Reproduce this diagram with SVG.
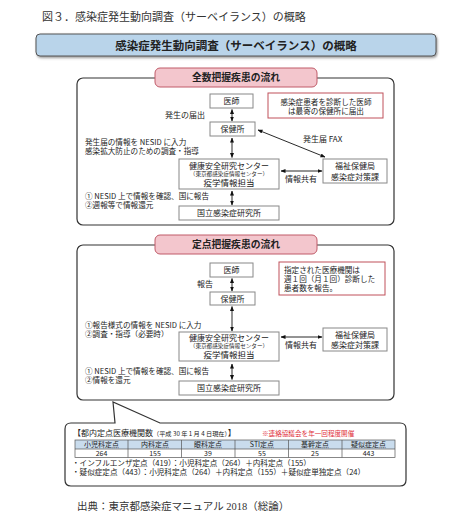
<svg xmlns="http://www.w3.org/2000/svg" width="474" height="530" viewBox="0 0 474 530">
<defs>
<marker id="ah" viewBox="0 0 10 10" refX="9" refY="5" markerWidth="5" markerHeight="5" orient="auto-start-reverse" markerUnits="userSpaceOnUse">
<path d="M0,1 L10,5 L0,9 z" fill="#111"/>
</marker>
<filter id="sh" x="-5%" y="-20%" width="110%" height="150%">
<feDropShadow dx="1" dy="1.5" stdDeviation="0.8" flood-color="#555" flood-opacity="0.6"/>
</filter>
</defs>
<style>
text{font-family:"Noto Sans CJK JP","Noto Sans",sans-serif;fill:#222}
.serif{font-family:"Liberation Serif","Noto Sans CJK JP",serif;fill:#333}
.node{fill:#fff;stroke:#888;stroke-width:1}
.note{fill:#fff;stroke:#c0505a;stroke-width:1}
.panel{fill:#fff;stroke:#333;stroke-width:1.2}
.tab{fill:#f3c6cd;stroke:#c05a68;stroke-width:1}
.t8{font-size:8px}
.t7{font-size:7.6px}
.sm{font-size:5.6px}
.c{text-anchor:middle}
.b{font-weight:bold}
.tbl{stroke:#555;stroke-width:0.7}
</style>

<text class="serif" x="42" y="21" font-size="11">図３．感染症発生動向調査（サーベイランス）の概略</text>

<g id="banner">
<rect x="36" y="34" width="400" height="22" rx="4" fill="#b9d4ea" stroke="#555" stroke-width="1" filter="url(#sh)"/>
<text x="236" y="49.5" font-size="11.5" class="c b">感染症発生動向調査（サーベイランス）の概略</text>
</g>

<g id="panel1">
<rect class="panel" x="77" y="78" width="317" height="147" rx="6"/>
</g>
<g id="tab1">
<rect class="tab" x="155" y="68" width="162" height="19" rx="5"/>
<text x="236" y="81" font-size="9.8" class="c b">全数把握疾患の流れ</text>
</g>

<g id="panel2">
<rect class="panel" x="77" y="245" width="317" height="155" rx="6"/>
</g>
<g id="tab2">
<rect class="tab" x="155" y="235" width="162" height="19" rx="5"/>
<text x="236" y="248" font-size="9.8" class="c b">定点把握疾患の流れ</text>
</g>

<g id="p1-doctor">
<rect class="node" x="210" y="94" width="43" height="14"/>
<text class="t8 c" x="231.5" y="104">医師</text>
</g>
<g id="p1-note">
<rect class="note" x="268" y="93" width="115" height="25"/>
<text class="t7 c" x="326" y="104.5">感染症患者を診断した医師</text>
<text class="t7 c" x="326" y="113.5">は最寄の保健所に届出</text>
</g>
<g id="p1-hc">
<rect class="node" x="210" y="122" width="45" height="14"/>
<text class="t8 c" x="232.5" y="132">保健所</text>
</g>
<g id="p1-center">
<rect class="node" x="179" y="159" width="100" height="30"/>
<text class="t8 c" x="229" y="168.5">健康安全研究センター</text>
<text class="sm c" x="229" y="176">（東京都感染症情報センター）</text>
<text class="c" x="229" y="185.5" font-size="8.5">疫学情報担当</text>
</g>
<g id="p1-welfare">
<rect class="node" x="323" y="159" width="64" height="24"/>
<text class="t8 c" x="355" y="169">福祉保健局</text>
<text class="t8 c" x="355" y="179.5">感染症対策課</text>
</g>
<g id="p1-niid">
<rect class="node" x="179" y="206" width="100" height="14"/>
<text class="t8 c" x="229" y="216">国立感染症研究所</text>
</g>
<g id="p1-labels">
<text class="t8" x="165" y="118">発生の届出</text>
<text class="t8" x="303" y="142">発生届 FAX</text>
<text class="t7" x="85" y="145">発生届の情報を NESID に入力</text>
<text class="t7" x="85" y="154">感染拡大防止のための調査・指導</text>
<text class="t8 c" x="301" y="182">情報共有</text>
<text class="t7" x="85" y="199">① NESID 上で情報を確認、国に報告</text>
<text class="t7" x="85" y="208">②週報等で情報還元</text>
</g>

<g id="p2-doctor">
<rect class="node" x="210" y="263" width="43" height="14"/>
<text class="t8 c" x="231.5" y="273">医師</text>
</g>
<g id="p2-note">
<rect class="note" x="279" y="262" width="106" height="33"/>
<text class="t7" x="284" y="272.5">指定された医療機関は</text>
<text class="t7" x="284" y="281.5">週１回（月１回）診断した</text>
<text class="t7" x="284" y="290.5">患者数を報告。</text>
</g>
<g id="p2-hc">
<rect class="node" x="210" y="292" width="45" height="13"/>
<text class="t8 c" x="232.5" y="301.5">保健所</text>
</g>
<g id="p2-center">
<rect class="node" x="179" y="332" width="100" height="29"/>
<text class="t8 c" x="229" y="341">健康安全研究センター</text>
<text class="sm c" x="229" y="348">（東京都感染症情報センター）</text>
<text class="c" x="229" y="357.5" font-size="8.5">疫学情報担当</text>
</g>
<g id="p2-welfare">
<rect class="node" x="323" y="328" width="64" height="23"/>
<text class="t8 c" x="355" y="337.5">福祉保健局</text>
<text class="t8 c" x="355" y="347.5">感染症対策課</text>
</g>
<g id="p2-niid">
<rect class="node" x="179" y="381" width="100" height="14"/>
<text class="t8 c" x="229" y="391">国立感染症研究所</text>
</g>
<g id="p2-labels">
<text class="t8" x="197" y="287">報告</text>
<text class="t7" x="85" y="328">①報告様式の情報を NESID に入力</text>
<text class="t7" x="85" y="337">②調査・指導（必要時）</text>
<text class="t8 c" x="301" y="348">情報共有</text>
<text class="t7" x="85" y="374">① NESID 上で情報を確認、国に報告</text>
<text class="t7" x="85" y="383">②情報を還元</text>
</g>

<g id="connectors" stroke="#111" stroke-width="0.9" fill="none">
<line x1="232" y1="109.5" x2="232" y2="121" marker-start="url(#ah)" marker-end="url(#ah)"/>
<line x1="232" y1="138" x2="232" y2="157.5" marker-start="url(#ah)" marker-end="url(#ah)"/>
<line x1="258" y1="130" x2="325" y2="157" marker-start="url(#ah)" marker-end="url(#ah)"/>
<line x1="281" y1="171" x2="322" y2="171" marker-start="url(#ah)" marker-end="url(#ah)"/>
<line x1="232" y1="191" x2="232" y2="205" marker-start="url(#ah)" marker-end="url(#ah)"/>
<line x1="232" y1="278.5" x2="232" y2="291" marker-start="url(#ah)" marker-end="url(#ah)"/>
<line x1="232" y1="306.5" x2="232" y2="331" marker-start="url(#ah)" marker-end="url(#ah)"/>
<line x1="281" y1="337" x2="322" y2="337" marker-start="url(#ah)" marker-end="url(#ah)"/>
<line x1="232" y1="364" x2="232" y2="379.5" marker-start="url(#ah)" marker-end="url(#ah)"/>
</g>

<g id="callout">
<path d="M71,423 H115 L113,402 L160,423 H400 Q406,423 406,429 V480 Q406,486 400,486 H71 Q65,486 65,480 V429 Q65,423 71,423 Z" fill="#fff" stroke="#333" stroke-width="1.2"/>
<text x="73" y="436" font-size="8">【都内定点医療機関数<tspan font-size="6.2">（平成 30 年 1 月 4 日現在）</tspan>】</text>
<text x="262" y="435.5" font-size="6.6" style="fill:#e0303a">※連絡協議会を年一回程度開催</text>
<rect x="75" y="440" width="320" height="9" fill="#c9dced"/>
<rect x="75" y="440" width="320" height="17.5" fill="none" class="tbl"/>
<line class="tbl" x1="75" y1="449" x2="395" y2="449"/>
<line class="tbl" x1="128" y1="440" x2="128" y2="457.5"/>
<line class="tbl" x1="181.5" y1="440" x2="181.5" y2="457.5"/>
<line class="tbl" x1="235" y1="440" x2="235" y2="457.5"/>
<line class="tbl" x1="288.5" y1="440" x2="288.5" y2="457.5"/>
<line class="tbl" x1="342" y1="440" x2="342" y2="457.5"/>
<g font-size="7">
<text class="c" x="101.5" y="447.3">小児科定点</text>
<text class="c" x="155" y="447.3">内科定点</text>
<text class="c" x="208" y="447.3">眼科定点</text>
<text class="c" x="262" y="447.3">STI定点</text>
<text class="c" x="315" y="447.3">基幹定点</text>
<text class="c" x="368.5" y="447.3">疑似症定点</text>
<text class="c" x="101.5" y="455.8">264</text>
<text class="c" x="155" y="455.8">155</text>
<text class="c" x="208" y="455.8">39</text>
<text class="c" x="262" y="455.8">55</text>
<text class="c" x="315" y="455.8">25</text>
<text class="c" x="368.5" y="455.8">443</text>
</g>
<text x="72" y="465.5" font-size="7.6">・インフルエンザ定点（419）：小児科定点（264）＋内科定点（155）</text>
<text x="72" y="474.5" font-size="7.6">・疑似症定点（443）：小児科定点（264）＋内科定点（155）＋疑似症単独定点（24）</text>
</g>

<text class="serif" x="77" y="510" font-size="10.5">出典：東京都感染症マニュアル 2018（総論）</text>
</svg>
